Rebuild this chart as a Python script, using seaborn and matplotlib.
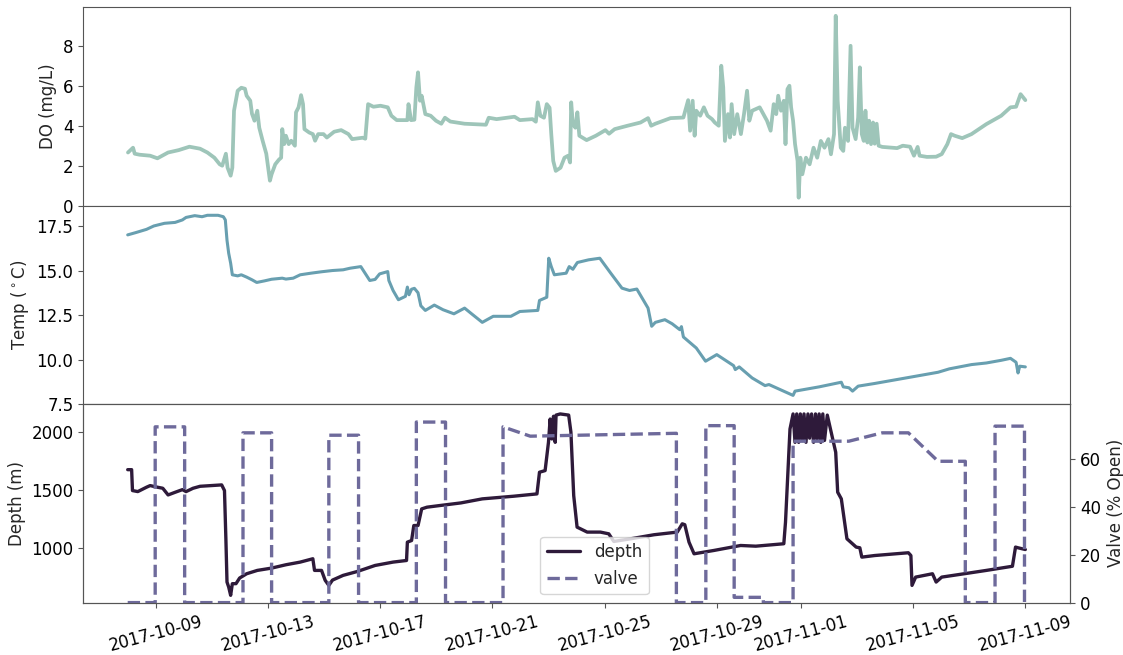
import numpy as np
import pandas as pd
import matplotlib
matplotlib.use("Agg")
import matplotlib.pyplot as plt
import matplotlib.dates as mdates
import seaborn as sns

# elapsed days since 2017-10-08 00:00
do_days = [0.01, 0.19, 0.25, 0.42, 0.80, 1.06, 1.44, 1.82, 2.20, 2.58, 2.84, 3.09, 3.28, 3.37, 3.50, 3.56,
           3.67, 3.73, 3.79, 3.92, 4.05, 4.18, 4.24, 4.37, 4.43, 4.52, 4.62, 4.69, 4.81, 4.94, 5.07, 5.13,
           5.26, 5.39, 5.47, 5.51, 5.58, 5.64, 5.74, 5.83, 5.96, 6.00, 6.09, 6.18, 6.25, 6.30, 6.47, 6.60,
           6.68, 6.79, 6.98, 7.10, 7.36, 7.61, 7.87, 8.00, 8.38, 8.47, 8.57, 8.76, 9.01, 9.27, 9.40, 9.59,
           9.97, 10.01, 10.10, 10.22, 10.29, 10.35, 10.42, 10.48, 10.61, 10.80, 10.99, 11.18, 11.31, 11.50,
           12.01, 12.77, 12.87, 13.15, 13.79, 13.98, 14.43, 14.55, 14.62, 14.71, 14.84, 14.94, 15.04, 15.10,
           15.17, 15.26, 15.43, 15.57, 15.70, 15.77, 15.81, 15.87, 15.96, 16.03, 16.10, 16.36, 16.69, 17.03,
           17.16, 17.36, 17.82, 18.28, 18.55, 18.66, 18.81, 19.35, 19.81, 19.98, 20.05, 20.14, 20.21, 20.27,
           20.41, 20.54, 20.67, 20.83, 20.93, 21.07, 21.16, 21.23, 21.29, 21.40, 21.47, 21.53, 21.62, 21.73,
           21.86, 21.97, 22.08, 22.16, 22.26, 22.53, 22.66, 22.79, 22.92, 23.03, 23.12, 23.19, 23.29, 23.39,
           23.45, 23.52, 23.59, 23.65, 23.72, 23.79, 23.88, 23.92, 23.98, 24.05, 24.18, 24.31, 24.45, 24.58,
           24.71, 24.84, 24.98, 25.07, 25.18, 25.24, 25.31, 25.42, 25.51, 25.57, 25.68, 25.77, 25.84, 25.95,
           26.04, 26.10, 26.17, 26.24, 26.30, 26.37, 26.43, 26.50, 26.57, 26.63, 26.70, 26.77, 26.90, 27.43,
           27.63, 27.89, 28.03, 28.16, 28.23, 28.49, 28.82, 29.02, 29.22, 29.35, 29.48, 29.75, 30.08, 30.61,
           31.14, 31.47, 31.67, 31.83, 32.00]
do_vals = [2.66, 2.9, 2.6, 2.55, 2.5, 2.37, 2.66, 2.78, 2.95, 2.85, 2.66, 2.4, 2.07, 2.0, 2.6, 1.9,
           1.5, 1.9, 4.75, 5.75, 5.9, 5.85, 5.5, 5.25, 4.6, 4.25, 4.75, 3.9, 3.25, 2.6, 1.25, 1.57,
           2.07, 2.3, 2.4, 3.83, 3.08, 3.5, 3.08, 3.25, 3.0, 4.67, 4.92, 5.53, 5.08, 3.83, 3.66, 3.58,
           3.25, 3.58, 3.58, 3.41, 3.7, 3.78, 3.58, 3.33, 3.4, 3.35, 5.08, 4.95, 5.0, 4.92, 4.5, 4.28,
           4.28, 5.08, 4.28, 4.3, 5.92, 6.67, 5.25, 5.5, 4.58, 4.5, 4.25, 4.1, 4.4, 4.21,
           4.1, 4.05, 4.4, 4.33, 4.45, 4.28, 4.33, 4.2, 5.17, 4.5, 4.4, 5.08, 4.9, 3.58,
           2.24, 1.74, 1.9, 2.4, 2.5, 2.16, 5.17, 4.08, 3.9, 4.67, 3.5, 3.28, 3.5, 3.78,
           3.6, 3.83, 4.0, 4.16, 4.38, 4.0, 4.1, 4.38, 4.41, 5.28, 3.75, 5.25, 3.5, 4.75,
           4.5, 4.92, 4.5, 4.33, 4.16, 4.0, 7.0, 5.92, 3.24, 4.58, 3.41, 5.08, 3.58, 4.58,
           3.58, 4.58, 5.75, 4.25, 4.75, 4.92, 4.58, 4.25, 3.75, 5.08, 4.58, 5.5, 4.75, 5.25,
           3.08, 5.83, 6.0, 4.92, 4.25, 3.08, 2.24, 0.4, 2.4, 1.57, 2.4, 2.07, 2.9, 2.4,
           3.24, 2.9, 3.33, 2.57, 3.58, 9.5, 5.25, 2.9, 2.74, 3.9, 3.24, 8.0, 3.9, 3.33,
           4.41, 6.92, 3.58, 3.24, 4.75, 3.16, 4.25, 3.08, 4.16, 3.1, 4.1, 3.0, 2.94, 2.88,
           3.0, 2.95, 2.5, 2.94, 2.5, 2.44, 2.45, 2.58, 3.08, 3.58, 3.5, 3.38, 3.58, 4.08,
           4.5, 4.92, 4.95, 5.58, 5.28]

temp_days = [0.0, 0.29, 0.67, 0.93, 1.31, 1.69, 1.95, 2.08, 2.39, 2.65, 2.84, 3.22, 3.41, 3.48, 3.54, 3.60,
             3.67, 3.73, 3.92, 4.05, 4.24, 4.43, 4.60, 4.88, 5.13, 5.51, 5.64, 5.90, 6.15, 6.53, 6.91, 7.30,
             7.68, 7.93, 8.31, 8.63, 8.82, 8.98, 9.27, 9.31, 9.46, 9.65, 9.90, 9.97, 10.03, 10.12, 10.22, 10.35,
             10.45, 10.61, 10.93, 11.24, 11.63, 12.01, 12.26, 12.64, 13.03, 13.66, 13.98, 14.62, 14.68, 14.94,
             15.01, 15.10, 15.21, 15.63, 15.74, 15.87, 16.03, 16.43, 16.83, 17.22, 17.62, 17.89, 18.15, 18.55,
             18.68, 18.81, 19.15, 19.41, 19.68, 19.74, 19.81, 20.27, 20.60, 21.00, 21.60, 21.66, 21.80, 22.26,
             22.72, 22.86, 23.72, 23.79, 24.65, 25.44, 25.51, 25.71, 25.84, 26.04, 26.63, 27.96, 28.89, 29.29,
             30.08, 30.61, 31.14, 31.47, 31.67, 31.74, 31.80, 32.00]
temp_vals = [17.0, 17.13, 17.31, 17.5, 17.65, 17.7, 17.84, 17.98, 18.08, 18.02, 18.1, 18.1, 18.02, 17.84, 16.7, 15.97,
             15.41, 14.76, 14.7, 14.76, 14.63, 14.48, 14.33, 14.42, 14.51, 14.57, 14.52, 14.57, 14.76, 14.85, 14.93, 15.0,
             15.04, 15.13, 15.22, 14.44, 14.5, 14.81, 14.94, 14.44, 13.88, 13.36, 13.55, 14.07, 13.64, 13.95, 14.0, 13.75,
             13.02, 12.76, 13.06, 12.8, 12.57, 12.89, 12.57, 12.09, 12.43, 12.43, 12.7, 12.76, 13.32, 13.5,
             15.69, 15.22, 14.76, 14.85, 15.22, 15.07, 15.45, 15.6, 15.69, 14.85, 14.01, 13.88, 13.96, 12.89,
             11.87, 12.09, 12.24, 12.01, 11.68, 11.85, 11.27, 10.65, 9.91, 10.28, 9.66, 9.44, 9.59, 8.97,
             8.54, 8.6, 7.99, 8.23, 8.47, 8.73, 8.47, 8.42, 8.23, 8.51, 8.66, 9.03, 9.29, 9.48,
             9.72, 9.81, 9.96, 10.07, 9.85, 9.25, 9.63, 9.59]

depth_days = [0.0, 0.14, 0.17, 0.36, 0.67, 0.80, 1.06, 1.25, 1.44, 1.69, 1.95, 2.08, 2.33, 2.58, 2.97, 3.35,
              3.45, 3.50, 3.54, 3.60, 3.67, 3.73, 3.86, 3.99, 4.24, 4.62, 5.13, 5.64, 6.15, 6.60, 6.66, 6.91,
              7.04, 7.17, 7.30, 7.68, 8.19, 8.82, 9.46, 9.94, 9.97, 10.12, 10.20, 10.35, 10.48, 10.67, 11.12, 11.88,
              12.64, 13.76, 14.59, 14.68, 14.88, 15.00, 15.06, 15.12, 15.18, 15.24, 15.27, 15.42, 15.72, 15.80,
              15.90, 16.02, 16.38, 16.85, 17.15, 17.33, 17.93, 18.76, 19.59, 19.77, 19.86, 20.01, 20.19, 20.90,
              21.85, 22.39, 23.39, 23.45, 23.61, 23.72, 23.79, 23.85, 23.92, 23.98, 24.05, 24.11, 24.18, 24.25,
              24.31, 24.38, 24.45, 24.52, 24.58, 24.65, 24.71, 24.78, 24.84, 24.94, 25.24, 25.31, 25.44, 25.64,
              25.97, 26.10, 26.17, 26.63, 27.83, 27.92, 27.96, 28.09, 28.69, 28.82, 29.02, 29.82, 30.61, 31.54,
              31.65, 31.74, 32.00]
depth_vals = [1677, 1677, 1496, 1487, 1525, 1539, 1525, 1516, 1458, 1481, 1504, 1487, 1516, 1533, 1539, 1545,
              1496, 1078, 703, 660, 588, 689, 689, 738, 775, 804, 824, 853, 876, 905, 804, 804,
              718, 674, 720, 761, 795, 847, 876, 890, 1049, 1063, 1193, 1193, 1337, 1352, 1366, 1389,
              1424, 1447, 1467, 1655, 1669, 1914, 2116, 1943, 2140, 1914, 2150, 2160, 2150, 2003,
              1452, 1179, 1136, 1136, 1121, 1055, 1078, 1113, 1136, 1208, 1200, 1049, 948, 977,
              1020, 1014, 1035, 1222, 2029, 2160, 1914, 2160, 1914, 2160, 1930, 2160, 1914, 2160,
              1950, 2160, 1914, 2160, 1940, 2160, 1914, 2160, 1930, 2150, 1828, 1482, 1424, 1078,
              1006, 1000, 919, 933, 957, 933, 674, 746, 775, 703, 746, 775, 804, 840,
              1006, 1000, 985]

valve_days = [0.0, 0.98, 0.98, 2.03, 2.03, 4.11, 4.11, 5.13, 5.13, 7.17, 7.17, 8.23, 8.23, 10.29, 10.29,
              11.33, 11.33, 13.38, 13.38, 14.35, 19.56, 19.56, 20.61, 20.61, 21.62, 21.62, 22.66, 22.66,
              23.72, 23.72, 25.71, 26.90, 27.83, 28.89, 29.86, 29.86, 30.92, 30.92, 31.97, 31.97]
valve_vals = [0, 0, 73.5, 73.5, 0, 0, 71, 71, 0, 0, 70, 70, 0, 0, 75.5,
              75.5, 0, 0, 73.5, 69.6, 70.8, 0, 0, 74, 74, 2.2, 2.2, 0,
              0, 67.5, 67.5, 71, 71, 59.1, 59.1, 0, 0, 73.8, 73.8, 0]

start = pd.Timestamp("2017-10-08")


def to_time(days):
    return start + pd.to_timedelta(np.array(days), unit="D")


do_df = pd.DataFrame({"time": to_time(do_days), "do": do_vals})
temp_df = pd.DataFrame({"time": to_time(temp_days), "temp": temp_vals})
depth_df = pd.DataFrame({"time": to_time(depth_days), "depth": depth_vals})
valve_df = pd.DataFrame({"time": to_time(valve_days), "valve": valve_vals})

sns.set_style("ticks")
plt.rcParams["font.family"] = ["DejaVu Sans"]
plt.rcParams["font.size"] = 12
edge = "#555555"
plt.rcParams["axes.edgecolor"] = edge
plt.rcParams["xtick.color"] = edge
plt.rcParams["ytick.color"] = edge
plt.rcParams["xtick.labelcolor"] = "black"
plt.rcParams["ytick.labelcolor"] = "black"

fig, axs = plt.subplots(nrows=3, sharex=True, figsize=(11.23, 6.55), dpi=100)
fig.subplots_adjust(left=0.074, right=0.953, top=0.989, bottom=0.080, hspace=0)

sns.lineplot(data=do_df, x="time", y="do", ax=axs[0], color="#9ec5b9", lw=2.7,
             estimator=None, sort=False)
axs[0].set(ylabel="DO (mg/L)", xlabel="", ylim=(0, 9.93), yticks=[0, 2, 4, 6, 8])

sns.lineplot(data=temp_df, x="time", y="temp", ax=axs[1], color="#689fb0", lw=2.2,
             estimator=None, sort=False)
axs[1].set(ylabel=r"Temp ($^\circ$C)", xlabel="", ylim=(7.5, 18.64),
           yticks=[7.5, 10.0, 12.5, 15.0, 17.5])

sns.lineplot(data=depth_df, x="time", y="depth", ax=axs[2], color="#2e1a3a", lw=2.4,
             estimator=None, sort=False)
axs[2].set(ylabel="Depth (m)", xlabel="", ylim=(525, 2245), yticks=[1000, 1500, 2000])

ax2 = axs[2].twinx()
sns.lineplot(data=valve_df, x="time", y="valve", ax=ax2, color="#6e6a9b", lw=2.4,
             linestyle="--", estimator=None, sort=False)
ax2.set(ylabel="Valve (% Open)", ylim=(0, 83), yticks=[0, 20, 40, 60])

for ax in axs[:2]:
    ax.tick_params(axis="x", bottom=False)

axs[2].set_xlim(start + pd.Timedelta(days=-1.59), start + pd.Timedelta(days=33.6))
axs[2].xaxis.set_major_locator(mdates.DayLocator(bymonthday=[1, 5, 9, 13, 17, 21, 25, 29]))
axs[2].xaxis.set_major_formatter(mdates.DateFormatter("%Y-%m-%d"))
plt.setp(axs[2].get_xticklabels(), rotation=15, ha="center")

handles = [axs[2].get_lines()[0], ax2.get_lines()[0]]
ax2.legend(handles, ["depth", "valve"], loc="lower center", bbox_to_anchor=(0.518, 0.0),
           fontsize=12, frameon=True)

plt.savefig("out.png", dpi=100)
